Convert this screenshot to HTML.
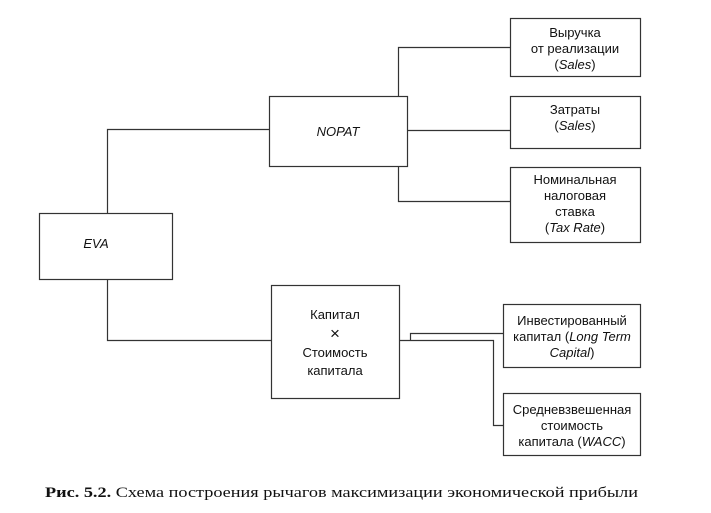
<!DOCTYPE html>
<html><head><meta charset="utf-8"><style>
html,body{margin:0;padding:0;background:#fff;width:711px;height:513px;overflow:hidden}
svg text{font-family:"Liberation Sans",sans-serif;font-size:13px;fill:#111}
.c{font-family:"Liberation Serif",serif;font-size:15px}
</style></head><body>
<svg width="711" height="513" viewBox="0 0 711 513" xmlns="http://www.w3.org/2000/svg">
<g fill="none" stroke="#333" stroke-width="1.2">
<rect x="39.5" y="213.5" width="133" height="66"/>
<rect x="269.5" y="96.5" width="138" height="70"/>
<rect x="271.5" y="285.5" width="128" height="113"/>
<rect x="510.5" y="18.5" width="130" height="58"/>
<rect x="510.5" y="96.5" width="130" height="52"/>
<rect x="510.5" y="167.5" width="130" height="75"/>
<rect x="503.5" y="304.5" width="137" height="63"/>
<rect x="503.5" y="393.5" width="137" height="62"/>
<polyline points="107.5,213 107.5,129.5 269,129.5"/>
<polyline points="107.5,280 107.5,340.5 271,340.5"/>
<polyline points="398.5,96 398.5,47.5 510,47.5"/>
<polyline points="408,130.5 510,130.5"/>
<polyline points="398.5,167 398.5,201.5 510,201.5"/>
<polyline points="400,340.5 493.5,340.5 493.5,425.5 503,425.5"/>
<polyline points="410.5,340.5 410.5,333.5 503,333.5"/>
</g>
<g text-anchor="middle">
<text x="96" y="248" font-style="italic">EVA</text>
<text x="338" y="136" font-style="italic">NOPAT</text>
<text x="335" y="319">Капитал</text>
<text x="335" y="339" style="font-size:17px">×</text>
<text x="335" y="357">Стоимость</text>
<text x="335" y="375">капитала</text>
<text x="575" y="37">Выручка</text>
<text x="575" y="53">от реализации</text>
<text x="575" y="69">(<tspan font-style="italic">Sales</tspan>)</text>
<text x="575" y="114">Затраты</text>
<text x="575" y="130">(<tspan font-style="italic">Sales</tspan>)</text>
<text x="575" y="184">Номинальная</text>
<text x="575" y="200">налоговая</text>
<text x="575" y="216">ставка</text>
<text x="575" y="232">(<tspan font-style="italic">Tax Rate</tspan>)</text>
<text x="572" y="325">Инвестированный</text>
<text x="572" y="341">капитал (<tspan font-style="italic">Long Term</tspan></text>
<text x="572" y="357"><tspan font-style="italic">Capital</tspan>)</text>
<text x="572" y="414">Средневзвешенная</text>
<text x="572" y="430">стоимость</text>
<text x="572" y="446">капитала (<tspan font-style="italic">WACC</tspan>)</text>
</g>
<text x="45" y="497" class="c" textLength="593" lengthAdjust="spacingAndGlyphs"><tspan font-weight="bold">Рис. 5.2.</tspan> Схема построения рычагов максимизации экономической прибыли</text>
</svg>
</body></html>
